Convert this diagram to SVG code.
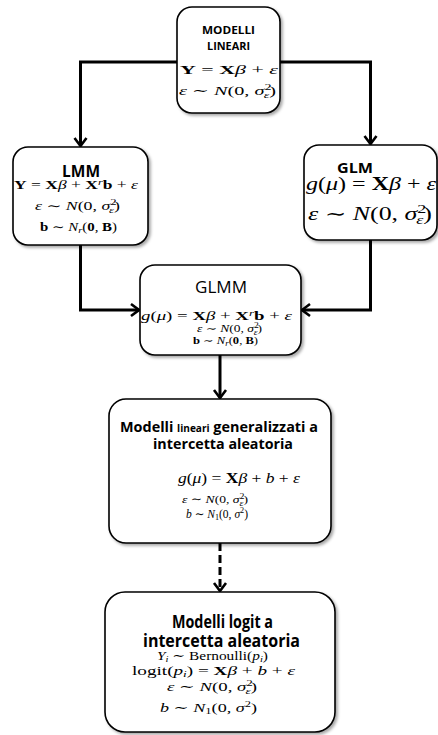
<svg xmlns="http://www.w3.org/2000/svg" width="438" height="735" viewBox="0 0 438 735">
  <style>
    .box { fill: #fff; stroke: #000; stroke-width: 1.6; filter: url(#shadow); }
    .conn { fill: none; stroke: #000; stroke-width: 3; }
    .dash { stroke-dasharray: 8 4; }
    .t { font-family: "Open Sans", "Liberation Sans", sans-serif; font-weight: bold; fill: #000; }
    .tn { font-family: "Open Sans", "Liberation Sans", sans-serif; font-weight: normal; fill: #000; }
    .m { font-family: "Liberation Serif", "DejaVu Serif", serif; fill: #000; }
    .i { font-style: italic; }
    .b { font-weight: bold; }
  </style>
  <defs>
    <filter id="shadow" x="-10%" y="-10%" width="125%" height="125%">
      <feDropShadow dx="2" dy="2" stdDeviation="1.5" flood-color="#000" flood-opacity="0.35"/>
    </filter>
    <marker id="arrow" markerUnits="userSpaceOnUse" viewBox="-10 -8 12 16" refX="0" refY="0" markerWidth="12" markerHeight="16" orient="auto">
      <path d="M-8,-6 L0,0 L-8,6" fill="none" stroke="#000" stroke-width="2.6" stroke-linejoin="miter"/>
    </marker>
  </defs>

  <!-- connectors -->
  <g id="connectors">
    <path class="conn" d="M177,62 H80.5 V146" marker-end="url(#arrow)"/>
    <path class="conn" d="M280,62 H370.5 V144" marker-end="url(#arrow)"/>
    <path class="conn" d="M80.5,245 V310 H139" marker-end="url(#arrow)"/>
    <path class="conn" d="M370.5,240 V310 H302" marker-end="url(#arrow)"/>
    <path class="conn" d="M220,355 V398" marker-end="url(#arrow)"/>
    <path class="conn dash" d="M220,543 V591" marker-end="url(#arrow)"/>
  </g>

  <!-- linear models -->
  <g id="node-lm">
    <rect class="box" x="177" y="7" width="103" height="106" rx="15"/>
    <text class="t" x="202" y="34" font-size="10.5" textLength="53" lengthAdjust="spacingAndGlyphs">MODELLI</text>
    <text class="t" x="207" y="50" font-size="10.5" textLength="43" lengthAdjust="spacingAndGlyphs">LINEARI</text>
    <text class="m" x="180" y="74" font-size="13" textLength="98" lengthAdjust="spacingAndGlyphs"><tspan class="b">Y</tspan> = <tspan class="b">X</tspan><tspan class="i">β</tspan> + <tspan class="i">ε</tspan></text>
    <text class="m" x="179" y="95" font-size="13" textLength="97" lengthAdjust="spacingAndGlyphs"><tspan class="i">ε</tspan> ∼ <tspan class="i">N</tspan>(0, <tspan class="i">σ</tspan><tspan font-size="9" dy="-5">2</tspan><tspan class="i" font-size="9" dx="-5" dy="8">ε</tspan><tspan dy="-3">)</tspan></text>
  </g>

  <!-- LMM -->
  <g id="node-lmm">
    <rect class="box" x="13" y="147" width="135" height="98" rx="15"/>
    <text class="t" x="62" y="177" font-size="16.5" textLength="38" lengthAdjust="spacingAndGlyphs">LMM</text>
    <text class="m" x="14" y="189" font-size="11.5" textLength="124" lengthAdjust="spacingAndGlyphs"><tspan class="b">Y</tspan> = <tspan class="b">X</tspan><tspan class="i">β</tspan> + <tspan class="b">X</tspan><tspan class="i" font-size="8" dy="-4">r</tspan><tspan class="b" dy="4">b</tspan> + <tspan class="i">ε</tspan></text>
    <text class="m" x="35" y="210" font-size="12" textLength="85" lengthAdjust="spacingAndGlyphs"><tspan class="i">ε</tspan> ∼ <tspan class="i">N</tspan>(0, <tspan class="i">σ</tspan><tspan font-size="8.5" dy="-5">2</tspan><tspan class="i" font-size="8.5" dx="-5" dy="8">ε</tspan><tspan dy="-3">)</tspan></text>
    <text class="m" x="40" y="231" font-size="12" textLength="77" lengthAdjust="spacingAndGlyphs"><tspan class="b">b</tspan> ∼ <tspan class="i">N</tspan><tspan class="i" font-size="8.5" dy="2">r</tspan><tspan dy="-2">(</tspan><tspan class="b">0</tspan>, <tspan class="b">B</tspan>)</text>
  </g>

  <!-- GLM -->
  <g id="node-glm">
    <rect class="box" x="304" y="145" width="133" height="95" rx="15"/>
    <text class="t" x="337" y="173" font-size="15" textLength="36" lengthAdjust="spacingAndGlyphs">GLM</text>
    <text class="m" x="306" y="190" font-size="18" textLength="130" lengthAdjust="spacingAndGlyphs"><tspan class="i">g</tspan>(<tspan class="i">μ</tspan>) = <tspan class="b">X</tspan><tspan class="i">β</tspan> + <tspan class="i">ε</tspan></text>
    <text class="m" x="308" y="220" font-size="18" textLength="124" lengthAdjust="spacingAndGlyphs"><tspan class="i">ε</tspan> ∼ <tspan class="i">N</tspan>(0, <tspan class="i">σ</tspan><tspan font-size="12.5" dy="-7">2</tspan><tspan class="i" font-size="12.5" dx="-7" dy="11">ε</tspan><tspan dy="-4">)</tspan></text>
  </g>

  <!-- GLMM -->
  <g id="node-glmm">
    <rect class="box" x="140" y="265" width="161" height="90" rx="15"/>
    <text class="tn" x="195" y="293" font-size="15.5" textLength="52" lengthAdjust="spacingAndGlyphs">GLMM</text>
    <text class="m" x="141" y="320" font-size="11.5" textLength="151" lengthAdjust="spacingAndGlyphs"><tspan class="i">g</tspan>(<tspan class="i">μ</tspan>) = <tspan class="b">X</tspan><tspan class="i">β</tspan> + <tspan class="b">X</tspan><tspan class="i" font-size="8" dy="-4">r</tspan><tspan class="b" dy="4">b</tspan> + <tspan class="i">ε</tspan></text>
    <text class="m" x="197" y="332" font-size="10.5" textLength="65" lengthAdjust="spacingAndGlyphs"><tspan class="i">ε</tspan> ∼ <tspan class="i">N</tspan>(0, <tspan class="i">σ</tspan><tspan font-size="7.5" dy="-4">2</tspan><tspan class="i" font-size="7.5" dx="-4" dy="7">ε</tspan><tspan dy="-3">)</tspan></text>
    <text class="m" x="193" y="344" font-size="10.5" textLength="65" lengthAdjust="spacingAndGlyphs"><tspan class="b">b</tspan> ∼ <tspan class="i">N</tspan><tspan class="i" font-size="7.5" dy="2">r</tspan><tspan dy="-2">(</tspan><tspan class="b">0</tspan>, <tspan class="b">B</tspan>)</text>
  </g>

  <!-- generalized linear random-intercept models -->
  <g id="node-glm-ri">
    <rect class="box" x="109" y="399" width="222" height="144" rx="17"/>
    <text class="t" x="120" y="432" font-size="15" textLength="198" lengthAdjust="spacingAndGlyphs">Modelli <tspan font-size="10.5">lineari</tspan> generalizzati a</text>
    <text class="t" x="153" y="449" font-size="15" textLength="140" lengthAdjust="spacingAndGlyphs">intercetta aleatoria</text>
    <text class="m" x="178" y="483" font-size="15" textLength="122" lengthAdjust="spacingAndGlyphs"><tspan class="i">g</tspan>(<tspan class="i">μ</tspan>) = <tspan class="b">X</tspan><tspan class="i">β</tspan> + <tspan class="i">b</tspan> + <tspan class="i">ε</tspan></text>
    <text class="m" x="182" y="503" font-size="11" textLength="66" lengthAdjust="spacingAndGlyphs"><tspan class="i">ε</tspan> ∼ <tspan class="i">N</tspan>(0, <tspan class="i">σ</tspan><tspan font-size="8" dy="-4">2</tspan><tspan class="i" font-size="8" dx="-4" dy="7">ε</tspan><tspan dy="-3">)</tspan></text>
    <text class="m" x="186" y="518" font-size="12" textLength="62" lengthAdjust="spacingAndGlyphs"><tspan class="i">b</tspan> ∼ <tspan class="i">N</tspan><tspan font-size="8.5" dy="2">1</tspan><tspan dy="-2">(0, </tspan><tspan class="i">σ</tspan><tspan font-size="8.5" dy="-5">2</tspan><tspan dy="5">)</tspan></text>
  </g>

  <!-- logit random-intercept models -->
  <g id="node-logit-ri">
    <rect class="box" x="105" y="592" width="230" height="140" rx="20"/>
    <text class="t" x="172" y="628" font-size="18" textLength="101" lengthAdjust="spacingAndGlyphs">Modelli logit a</text>
    <text class="t" x="143" y="647" font-size="18" textLength="157" lengthAdjust="spacingAndGlyphs">intercetta aleatoria</text>
    <text class="m" x="157" y="660" font-size="13" textLength="111" lengthAdjust="spacingAndGlyphs"><tspan class="i">Y</tspan><tspan class="i" font-size="9" dy="2">i</tspan><tspan dy="-2"> ∼ Bernoulli(</tspan><tspan class="i">p</tspan><tspan class="i" font-size="9" dy="2">i</tspan><tspan dy="-2">)</tspan></text>
    <text class="m" x="132" y="675" font-size="13" textLength="163" lengthAdjust="spacingAndGlyphs">logit(<tspan class="i">p</tspan><tspan class="i" font-size="9" dy="2">i</tspan><tspan dy="-2">) = </tspan><tspan class="b">X</tspan><tspan class="i">β</tspan> + <tspan class="i">b</tspan> + <tspan class="i">ε</tspan></text>
    <text class="m" x="167" y="691" font-size="13" textLength="90" lengthAdjust="spacingAndGlyphs"><tspan class="i">ε</tspan> ∼ <tspan class="i">N</tspan>(0, <tspan class="i">σ</tspan><tspan font-size="9" dy="-5">2</tspan><tspan class="i" font-size="9" dx="-5" dy="8">ε</tspan><tspan dy="-3">)</tspan></text>
    <text class="m" x="160" y="712" font-size="13" textLength="97" lengthAdjust="spacingAndGlyphs"><tspan class="i">b</tspan> ∼ <tspan class="i">N</tspan><tspan font-size="9" dy="2">1</tspan><tspan dy="-2">(0, </tspan><tspan class="i">σ</tspan><tspan font-size="9" dy="-5">2</tspan><tspan dy="5">)</tspan></text>
  </g>
</svg>
